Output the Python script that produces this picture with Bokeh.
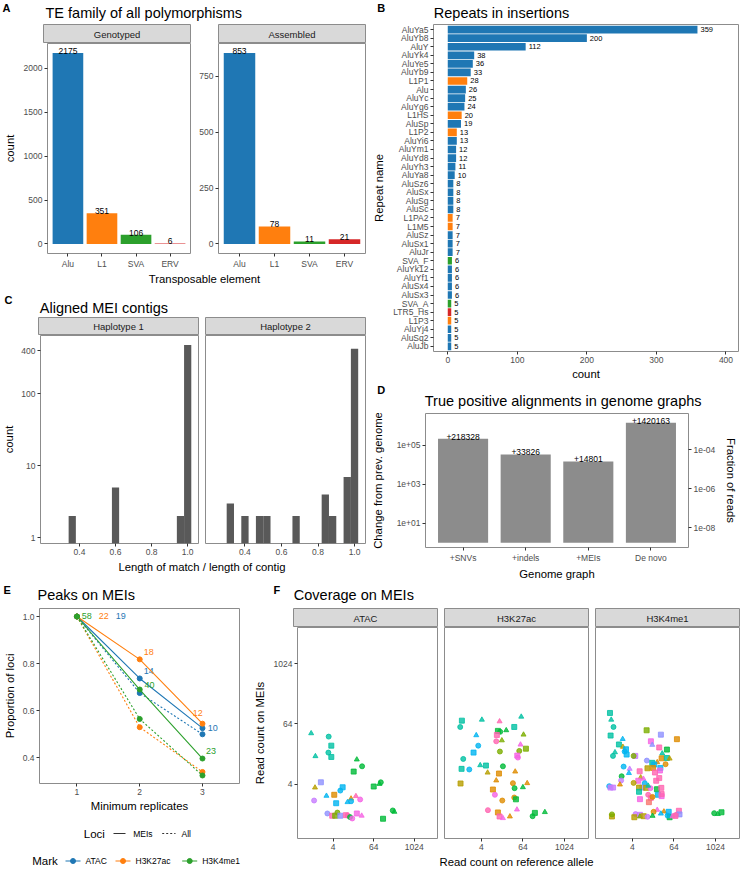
from bokeh.plotting import figure
from bokeh.layouts import row, column
from bokeh.models import (Range1d, FactorRange, FixedTicker, Label, LogAxis, LogScale,
                          BasicTickFormatter, NumeralTickFormatter, CustomJSTickFormatter,
                          ColumnDataSource)
from bokeh.core.properties import value
from bokeh.embed import file_html
from bokeh.resources import INLINE

FONT = "Liberation Sans"
BORDER = "#8C8C8C"
TICK = "#333333"
TICKLAB = "#4D4D4D"
STRIP = "#D9D9D9"
TITLE_SIZE = "14.5px"
AXTITLE_SIZE = "11.3px"
TICK_SIZE = "8.5px"

# ---------------- data ----------------
# A
te_families = ["Alu", "L1", "SVA", "ERV"]
te_genotyped = [2175, 351, 106, 6]
te_assembled = [853, 78, 11, 21]
family_colors = ["#1F77B4", "#FF7F0E", "#2CA02C", "#D62728"]

# B
repeat_names = ["AluYa5", "AluYb8", "AluY", "AluYk4", "AluYe5", "AluYb9", "L1P1", "Alu", "AluYc",
                "AluYg6", "L1HS", "AluSp", "L1P2", "AluYi6", "AluYm1", "AluYd8", "AluYh3", "AluYa8",
                "AluSz6", "AluSx", "AluSg", "AluSc", "L1PA2", "L1M5", "AluSz", "AluSx1", "AluJr",
                "SVA_F", "AluYk12", "AluYf1", "AluSx4", "AluSx3", "SVA_A", "LTR5_Hs", "L1P3",
                "AluYj4", "AluSq2", "AluJb"]
repeat_counts = [359, 200, 112, 38, 36, 33, 28, 26, 25, 24, 20, 19, 13, 13, 12, 12, 11, 10, 8, 8,
                 8, 8, 7, 7, 7, 7, 7, 6, 6, 6, 6, 6, 5, 5, 5, 5, 5, 5]
repeat_family = ["Alu", "Alu", "Alu", "Alu", "Alu", "Alu", "L1", "Alu", "Alu", "Alu", "L1", "Alu",
                 "L1", "Alu", "Alu", "Alu", "Alu", "Alu", "Alu", "Alu", "Alu", "Alu", "L1", "L1",
                 "Alu", "Alu", "Alu", "SVA", "Alu", "Alu", "Alu", "Alu", "SVA", "ERV", "L1", "Alu",
                 "Alu", "Alu"]

# C
hist_bin_width = 0.04
hap1_bins = [0.36, 0.60, 0.96, 1.00]
hap1_counts = [2, 5, 2, 480]
hap2_bins = [0.32, 0.40, 0.48, 0.52, 0.68, 0.84, 0.88, 0.96, 1.00]
hap2_counts = [3, 2, 2, 2, 2, 4, 2, 7, 423]

# D
genome_graphs = ["+SNVs", "+indels", "+MEIs", "De novo"]
tp_change = [218328, 33826, 14801, 1420163]
total_reads = 6.0e8

# E
replicates = [1, 2, 3]
marks = ["ATAC", "H3K27ac", "H3K4me1"]
mark_colors = ["#1F77B4", "#FF7F0E", "#2CA02C"]
atac_mei_counts = [19, 14, 10]
h3k27ac_mei_counts = [22, 18, 12]
h3k4me1_mei_counts = [58, 40, 23]
atac_mei_prop = [1.0, 0.737, 0.526]
h3k27ac_mei_prop = [1.0, 0.818, 0.545]
h3k4me1_mei_prop = [1.0, 0.690, 0.397]
atac_all_prop = [1.0, 0.675, 0.500]
h3k27ac_all_prop = [1.0, 0.530, 0.340]
h3k4me1_all_prop = [1.0, 0.565, 0.325]

# F  (read counts, given as log2 values)
atac_ref_log2 = [-0.18, 1.55, 1.81, 1.52, 0.24, 1.81, 4.33, 4.85, 4.02, 0.78, 0.20, 2.93, 2.70,
                 6.00, 6.70, 6.57, 1.33, 2.10, 3.76, 4.24, 4.66, 0.11, 2.29, 3.41, 3.76, 1.42,
                 2.41, 1.90, 2.19, 2.70, 3.25, 3.41, 3.66, 3.88, 4.33, 4.81, 7.88, 8.04, 6.92]
atac_mei_log2 = [5.38, 5.16, 4.56, 4.10, 3.86, 3.81, 3.64, 3.19, 2.84, 2.13, 1.78, 1.80, 1.58,
                 1.85, 2.13, 2.02, 1.23, 1.30, 1.05, 1.21, 0.99, 0.92, 0.74, 0.81, 0.87, 0.06,
                 0.12, -0.09, -0.09, -0.09, -0.05, -0.07, -0.18, -0.27, 0.06, -0.09, 0.26, 0.17,
                 -0.29]
atac_sample = list("eeee" "eegg" "gblc" "cggg" "cook" "mpcc" "cbyk" "ybkk" "gmmm" "ggg")
atac_shape = list("tcsc" "tstc" "ssts" "csct" "tstt" "ccst" "cccs" "sssc" "ccst" "cts")

h3k27ac_ref_log2 = [0.14, 2.06, 3.76, 5.84, -0.02, 5.17, 3.60, 3.82, 4.40, 6.06, 1.52, 3.50, 3.44,
                    3.98, 5.77, 1.71, 1.26, 3.79, 5.65, 6.29, 5.46, 5.52, 0.27, 1.90, 2.45, 4.08,
                    0.11, 0.85, 2.61, 3.70, 5.26, 0.01, 3.44, 5.04, 6.41, 5.20, 6.00, 3.12, 3.31,
                    4.02, 5.17, 5.33, 2.64, 5.43, 3.60, 3.76, 4.08, 4.75, 7.15, 6.93, 8.11]
h3k27ac_mei_log2 = [6.22, 6.28, 6.17, 6.48, 5.80, 5.80, 5.54, 5.48, 5.58, 5.29, 5.25, 5.27, 4.85,
                    4.91, 4.63, 4.56, 4.10, 4.17, 4.21, 4.36, 3.90, 3.77, 3.68, 3.26, 3.24, 3.19,
                    3.02, 2.98, 2.77, 2.71, 2.84, 2.05, 2.25, 2.07, 2.07, 1.74, 1.80, 1.65, 1.30,
                    0.92, 1.12, 1.00, 0.28, 0.32, 0.13, -0.14, -0.25, -0.14, 0.10, -0.12, 0.15]
h3k27ac_sample = list("eeke" "eegg" "gyck" "kymc" "cyyy" "mmee" "egec" "lool" "ooog" "gomo"
                      "ogkm" "okmo" "ggg")
h3k27ac_shape = list("sttt" "cssc" "ttts" "cttc" "sccs" "scct" "scsc" "tsts" "tctc" "tscc"
                     "csct" "sstt" "sct")

h3k4me1_ref_log2 = [-0.14, -0.02, 0.20, -0.08, 3.38, 4.75, 1.08, 6.29, 3.79, 3.92,
                    0.72, 1.10, 4.59, 5.33, 1.40, 1.27, 0.34, 0.15, 1.46, 4.88,
                    2.29, 2.13, 4.82, 5.33, 5.59, 4.40, 3.40, 3.92, 4.11, 5.20,
                    1.17, 1.75, 4.70, 3.46, 4.00, 4.66, 4.18, 1.68, 2.71, 0.98,
                    0.93, 2.81, 4.59, 2.58, 3.07, 4.30, 2.13, 0.82, -0.21, -0.09,
                    0.16, 3.20, 2.97, 3.33, 3.75, 2.65, 3.53, 4.37, 4.79, 2.65,
                    4.46, 4.82, 4.82, 3.53, 3.79, 3.94, 2.74, 3.60, 0.05, 0.05,
                    2.32, 2.20, 2.74, 2.74, 3.10, 3.47, 4.40, 4.05, 3.95, 5.04,
                    4.75, 5.50, 5.59, 5.84, 6.22, 6.48, 6.54, 5.40, 9.87, 10.22,
                    10.57, 6.15]
h3k4me1_mei_log2 = [6.73, 6.28, 5.80, 5.23, 5.58, 5.29, 5.00, 4.99, 4.85, 4.61,
                    4.64, 4.48, 4.44, 4.30, 4.32, 4.17, 4.12, 3.88, 3.97, 4.04,
                    3.88, 3.88, 3.72, 3.74, 3.70, 3.46, 3.57, 3.42, 3.31, 3.33,
                    3.17, 3.02, 3.08, 3.06, 3.08, 2.91, 2.78, 2.74, 2.86, 2.53,
                    2.25, 2.45, 2.41, 2.23, 2.36, 2.23, 2.09, 1.98, 1.87, 1.78,
                    1.78, 2.07, 1.78, 1.76, 1.74, 1.78, 1.90, 1.67, 1.76, 1.50,
                    1.30, 1.21, 1.35, 1.30, 1.10, 1.16, 1.01, 0.81, -0.14, 0.00,
                    0.02, -0.19, -0.03, -0.14, -0.12, -0.16, 0.30, 0.17, -0.10, 0.19,
                    0.05, 0.17, -0.19, -0.13, -0.03, 0.24, 0.00, -0.08, 0.08, 0.02,
                    0.14, -0.10]
h3k4me1_sample = list("eeeeybcomb" "elkgcceece" "pyoelobeco" "cpclomkckg" "plkmmklocp"
                      "pcblmlegke" "cmkkkomrly" "plpylpmogo" "ccgmkkbcgg" "gk")
h3k4me1_shape = list("stcssstsst" "stsssctcst" "scssttcssc" "ctssssstsc" "ctsstsctcs"
                     "scsscstsss" "ssscscsssc" "csstsctctt" "tsstcsscct" "ss")

sample_palette = {"r": "#F8766D", "o": "#DE8C00", "l": "#B79F00", "y": "#7CAE00",
                  "g": "#00BA38", "e": "#00C1A3", "t": "#00BFC4", "c": "#00B4F0",
                  "b": "#8F91FF", "p": "#C77CFF", "m": "#F564E3", "k": "#FF64B0"}
shape_markers = {"c": "circle", "t": "triangle", "s": "square"}


# ---------------- helpers ----------------
def style_axes(p, label_standoff=3):
    for ax in p.axis:
        ax.axis_line_color = None
        ax.major_tick_line_color = TICK
        ax.major_tick_out = 3
        ax.major_tick_in = 0
        ax.minor_tick_line_color = None
        ax.major_label_text_font = FONT
        ax.major_label_text_font_size = TICK_SIZE
        ax.major_label_text_color = TICKLAB
        ax.major_label_standoff = 2
        ax.axis_label_text_font = FONT
        ax.axis_label_text_font_size = AXTITLE_SIZE
        ax.axis_label_text_font_style = "normal"
        ax.axis_label_text_color = "black"
        ax.axis_label_standoff = label_standoff


def facet(width, height, left, right, bottom, x_range, y_range, x_type="auto", y_type="auto",
          show_y=True):
    p = figure(width=width, height=height, x_range=x_range, y_range=y_range,
               x_axis_type=x_type, y_axis_type=y_type,
               y_axis_location="left" if show_y else None,
               min_border_left=left, min_border_right=right, min_border_top=0,
               min_border_bottom=bottom, output_backend="svg", toolbar_location=None)
    p.grid.visible = False
    p.outline_line_color = BORDER
    p.outline_line_width = 1
    p.background_fill_color = "white"
    p.border_fill_color = "white"
    return p


def blank(w, h):
    f = figure(width=w, height=h, x_range=Range1d(0, w), y_range=Range1d(0, h),
               x_axis_location=None, y_axis_location=None, min_border_left=0,
               min_border_right=0, min_border_top=0, min_border_bottom=0,
               output_backend="svg", toolbar_location=None)
    f.grid.visible = False
    f.outline_line_color = None
    return f


def put(f, x, y, text, size, bold=False, color="black", align="left", baseline="alphabetic"):
    f.add_layout(Label(x=x, y=y, text=text, text_font=FONT, text_font_size=size,
                       text_font_style="bold" if bold else "normal", text_color=color,
                       text_align=align, text_baseline=baseline))


def strip(width, left, right, text, h):
    s = figure(width=width, height=h, x_range=Range1d(0, 1), y_range=Range1d(0, 1),
               x_axis_location=None, y_axis_location=None, min_border_left=left,
               min_border_right=right, min_border_top=0, min_border_bottom=0,
               output_backend="svg", toolbar_location=None)
    s.grid.visible = False
    s.background_fill_color = STRIP
    s.outline_line_color = BORDER
    s.add_layout(Label(x=0.5, y=0.5, text=text, text_align="center", text_baseline="middle",
                       text_font=FONT, text_font_size="9.5px", text_color="#1A1A1A"))
    return s


fam_color = dict(zip(te_families, family_colors))

# ---------------- Panel A ----------------
a_hdr = blank(368, 24)
put(a_hdr, 2, 16.3, "A", "11px", bold=True)
put(a_hdr, 45, 11.3, "TE family of all polymorphisms", TITLE_SIZE)


def te_facet(width, left, right, counts, yr, ticks, ylabel):
    p = facet(width, 228, left, right, 17,
              FactorRange(*te_families, range_padding=0.1, range_padding_units="absolute"), yr)
    src = ColumnDataSource(dict(x=te_families, top=counts, color=family_colors,
                                lab=[str(v) for v in counts]))
    p.vbar(x="x", top="top", bottom=0, width=0.9, fill_color="color", line_color=None, source=src)
    p.text(x="x", y="top", text="lab", source=src, text_align="center",
           text_baseline="bottom", y_offset=1, text_font=value(FONT), text_font_size="8.5px",
           text_color="black")
    p.yaxis.ticker = FixedTicker(ticks=ticks)
    p.yaxis.axis_label = ylabel
    style_axes(p, label_standoff=5)
    return p


a_s1 = strip(191, 43, 1, "Genotyped", 19)
a_s2 = strip(177, 27, 3, "Assembled", 19)
a_f1 = te_facet(191, 43, 1, te_genotyped, Range1d(-108.75, 2283.75), [0, 500, 1000, 1500, 2000], "count")
a_f2 = te_facet(177, 27, 3, te_assembled, Range1d(-42.65, 895.65), [0, 250, 500, 750], "")
a_ft = blank(368, 14)
put(a_ft, 204, 7, "Transposable element", AXTITLE_SIZE, align="center", baseline="middle")

# ---------------- Panel C ----------------
c_hdr = blank(368, 32)
put(c_hdr, 4, 17.7, "C", "11px", bold=True)
put(c_hdr, 39.3, 9.3, "Aligned MEI contigs", TITLE_SIZE)
c_ylo, c_yhi = 10 ** -0.08, 10 ** 2.812


def hist_facet(width, left, right, bins, counts, show_y):
    p = facet(width, 223, left, right, 15, Range1d(0.184, 1.06), Range1d(c_ylo, c_yhi),
              y_type="log", show_y=show_y)
    p.vbar(x=bins, top=counts, bottom=c_ylo, width=hist_bin_width, fill_color="#595959",
           line_color=None)
    p.xaxis.ticker = FixedTicker(ticks=[0.4, 0.6, 0.8, 1.0])
    p.xaxis.formatter = NumeralTickFormatter(format="0.0")
    if show_y:
        p.yaxis.ticker = FixedTicker(ticks=[1, 10, 100, 400])
        p.yaxis.formatter = BasicTickFormatter()
        p.yaxis.axis_label = "count"
    style_axes(p, label_standoff=3)
    return p


c_s1 = strip(199, 38, 1, "Haplotype 1", 18)
c_s2 = strip(169, 6, 3, "Haplotype 2", 18)
c_f1 = hist_facet(199, 38, 1, hap1_bins, hap1_counts, True)
c_f2 = hist_facet(169, 6, 3, hap2_bins, hap2_counts, False)
c_ft = blank(368, 24)
put(c_ft, 201.5, 16, "Length of match / length of contig", AXTITLE_SIZE, align="center",
    baseline="middle")

# ---------------- Panel B ----------------
b_hdr = blank(372, 24)
put(b_hdr, 8.7, 16.3, "B", "11px", bold=True)
put(b_hdr, 65.3, 12, "Repeats in insertions", TITLE_SIZE)

b_fig = facet(372, 358, 65, 2, 30, Range1d(-20.5, 418),
              FactorRange(*list(reversed(repeat_names)), range_padding=0.1,
                          range_padding_units="absolute"))
b_src = ColumnDataSource(dict(y=repeat_names, right=repeat_counts,
                              color=[fam_color[f] for f in repeat_family],
                              lab=[str(v) for v in repeat_counts]))
b_fig.hbar(y="y", right="right", left=0, height=0.9, fill_color="color", line_color=None,
           source=b_src)
b_fig.text(x="right", y="y", text="lab", source=b_src, x_offset=3, text_align="left",
           text_baseline="middle", text_font=value(FONT), text_font_size="7.5px",
           text_color="black")
b_fig.xaxis.ticker = FixedTicker(ticks=[0, 100, 200, 300, 400])
b_fig.xaxis.axis_label = "count"
b_fig.yaxis.axis_label = "Repeat name"
style_axes(b_fig, label_standoff=5)
b_fig.xaxis.axis_label_standoff = 2

# ---------------- Panel D ----------------
d_hdr = blank(372, 31)
put(d_hdr, 8.7, 23.7, "D", "11px", bold=True)
put(d_hdr, 56.3, 13, "True positive alignments in genome graphs", TITLE_SIZE)

sci = CustomJSTickFormatter(code="""
const s = tick.toExponential(0);
const m = s.match(/^(\\d)e([+-])(\\d+)$/);
if (!m) { return s; }
const d = m[3].length < 2 ? '0' + m[3] : m[3];
return m[1] + 'e' + m[2] + d;
""")
d_lo, d_hi = 10 ** -0.24, 10 ** 6.63
d_fig = facet(372, 169, 56, 48, 35,
              FactorRange(*genome_graphs, range_padding=0.1, range_padding_units="absolute"),
              Range1d(d_lo, d_hi), y_type="log")
d_src = ColumnDataSource(dict(x=genome_graphs, top=tp_change,
                              lab=["+" + str(v) for v in tp_change]))
d_fig.vbar(x="x", top="top", bottom=1, width=0.8, fill_color="#8C8C8C", line_color=None,
           source=d_src)
d_fig.text(x="x", y="top", text="lab", source=d_src, text_align="center",
           text_baseline="bottom", y_offset=1, text_font=value(FONT), text_font_size="8.5px",
           text_color="black")
d_fig.yaxis.ticker = FixedTicker(ticks=[10, 1000, 100000])
d_fig.yaxis.formatter = sci
d_fig.yaxis.axis_label = "Change from prev. genome"
d_fig.xaxis.axis_label = "Genome graph"
d_fig.extra_y_ranges = {"frac": Range1d(d_lo / total_reads, d_hi / total_reads)}
d_fig.extra_y_scales = {"frac": LogScale()}
d_right = LogAxis(y_range_name="frac", ticker=FixedTicker(ticks=[1e-8, 1e-6, 1e-4]),
                  formatter=sci, axis_label="Fraction of reads")
d_fig.add_layout(d_right, "right")
style_axes(d_fig, label_standoff=2)
d_fig.yaxis[0].axis_label_standoff = 10
d_right.axis_label_standoff = 7

# ---------------- Panel E ----------------
e_hdr = blank(250, 26)
put(e_hdr, 3, 19, "E", "11px", bold=True)
put(e_hdr, 37, 14, "Peaks on MEIs", TITLE_SIZE)

e_fig = facet(250, 206, 35, 11, 30, Range1d(0.403, 3.59), Range1d(0.291, 1.034))
e_mei = [atac_mei_prop, h3k27ac_mei_prop, h3k4me1_mei_prop]
e_all = [atac_all_prop, h3k27ac_all_prop, h3k4me1_all_prop]
e_cnt = [atac_mei_counts, h3k27ac_mei_counts, h3k4me1_mei_counts]
e_dx = [[38.7, 4, 5.3], [21.7, 4, -9.7], [4.7, 4.7, 3.6]]
e_dy = [[-1, -7, 0], [-1, -7, -11], [-1, -5, -8]]
for col, mei, allp, cnt, dx, dy in zip(mark_colors, e_mei, e_all, e_cnt, e_dx, e_dy):
    e_fig.line(replicates, allp, line_color=col, line_width=1.1, line_dash="2 2")
    e_fig.line(replicates, mei, line_color=col, line_width=1.1)
    e_fig.scatter(replicates, allp, size=5, color=col)
    e_fig.scatter(replicates, mei, size=5, color=col)
    e_fig.text(x=replicates, y=mei, text=[str(c) for c in cnt], x_offset=dx, y_offset=dy,
               text_align="left", text_baseline="middle", text_font=value(FONT),
               text_font_size="9px", text_color=col)
e_fig.xaxis.ticker = FixedTicker(ticks=[1, 2, 3])
e_fig.yaxis.ticker = FixedTicker(ticks=[0.4, 0.6, 0.8, 1.0])
e_fig.yaxis.formatter = NumeralTickFormatter(format="0.0")
e_fig.xaxis.axis_label = "Minimum replicates"
e_fig.yaxis.axis_label = "Proportion of loci"
style_axes(e_fig, label_standoff=2)
e_fig.yaxis.axis_label_standoff = 4

e_leg = blank(250, 55)
put(e_leg, 83.3, 36, "Loci", "11.5px", baseline="middle")
e_leg.line([113, 125], [36, 36], line_color="#333333", line_width=1.1)
put(e_leg, 132.7, 36, "MEIs", "8.5px", baseline="middle")
e_leg.line([161.7, 175], [36, 36], line_color="#333333", line_width=1.1, line_dash="2 2")
put(e_leg, 181, 36, "All", "8.5px", baseline="middle")
put(e_leg, 31.7, 8.5, "Mark", "11.5px", baseline="middle")
for (x0, x1, xt), name, col in zip([(65, 80, 85), (115, 130, 135), (181.7, 196.7, 201.7)],
                                   marks, mark_colors):
    e_leg.line([x0, x1], [8.5, 8.5], line_color=col, line_width=1.1)
    e_leg.scatter([(x0 + x1) / 2], [8.5], size=5, color=col)
    put(e_leg, xt, 8.5, name, "8.5px", baseline="middle")

# ---------------- Panel F ----------------
f_hdr = blank(490, 26)
put(f_hdr, 23, 19, "F", "11px", bold=True)
put(f_hdr, 43.3, 14, "Coverage on MEIs", TITLE_SIZE)


def cov_facet(width, left, ref_l, mei_l, samples, shapes, show_y):
    p = facet(width, 226, left, 1, 15, Range1d(2 ** -1.53, 2 ** 12.3),
              Range1d(2 ** -1.6, 2 ** 12.4), x_type="log", y_type="log", show_y=show_y)
    n = min(len(ref_l), len(mei_l), len(samples), len(shapes))
    src = ColumnDataSource(dict(
        x=[2.0 ** v for v in ref_l[:n]], y=[2.0 ** v for v in mei_l[:n]],
        color=[sample_palette[s] for s in samples[:n]],
        marker=[shape_markers[s] for s in shapes[:n]]))
    p.scatter(x="x", y="y", marker="marker", fill_color="color", line_color="color",
              size=5, fill_alpha=0.8, line_alpha=0.8, source=src)
    p.xaxis.ticker = FixedTicker(ticks=[4, 64, 1024])
    p.xaxis.formatter = BasicTickFormatter()
    if show_y:
        p.yaxis.ticker = FixedTicker(ticks=[4, 64, 1024])
        p.yaxis.formatter = BasicTickFormatter()
        p.yaxis.axis_label = "Read count on MEIs"
    style_axes(p, label_standoff=5)
    return p


f_s1 = strip(188, 43, 1, "ATAC", 19)
f_s2 = strip(151, 6, 1, "H3K27ac", 19)
f_s3 = strip(151, 6, 1, "H3K4me1", 19)
f_f1 = cov_facet(188, 43, atac_ref_log2, atac_mei_log2, atac_sample, atac_shape, True)
f_f2 = cov_facet(151, 6, h3k27ac_ref_log2, h3k27ac_mei_log2, h3k27ac_sample, h3k27ac_shape, False)
f_f3 = cov_facet(151, 6, h3k4me1_ref_log2, h3k4me1_mei_log2, h3k4me1_sample, h3k4me1_shape, False)
f_ft = blank(490, 16)
put(f_ft, 266, 8, "Read count on reference allele", AXTITLE_SIZE, align="center",
    baseline="middle")

# ---------------- layout ----------------
left_col = column(row(a_hdr), row(a_s1, a_s2), row(a_f1, a_f2), row(a_ft),
                  row(c_hdr), row(c_s1, c_s2), row(c_f1, c_f2), row(c_ft))
right_col = column(row(b_hdr), row(b_fig), row(d_hdr), row(d_fig))
e_col = column(row(e_hdr), row(e_fig), row(e_leg))
f_col = column(row(f_hdr), row(f_s1, f_s2, f_s3), row(f_f1, f_f2, f_f3), row(f_ft))
root = column(row(left_col, right_col), row(e_col, f_col))

open("out.html", "w").write(file_html(root, INLINE))
